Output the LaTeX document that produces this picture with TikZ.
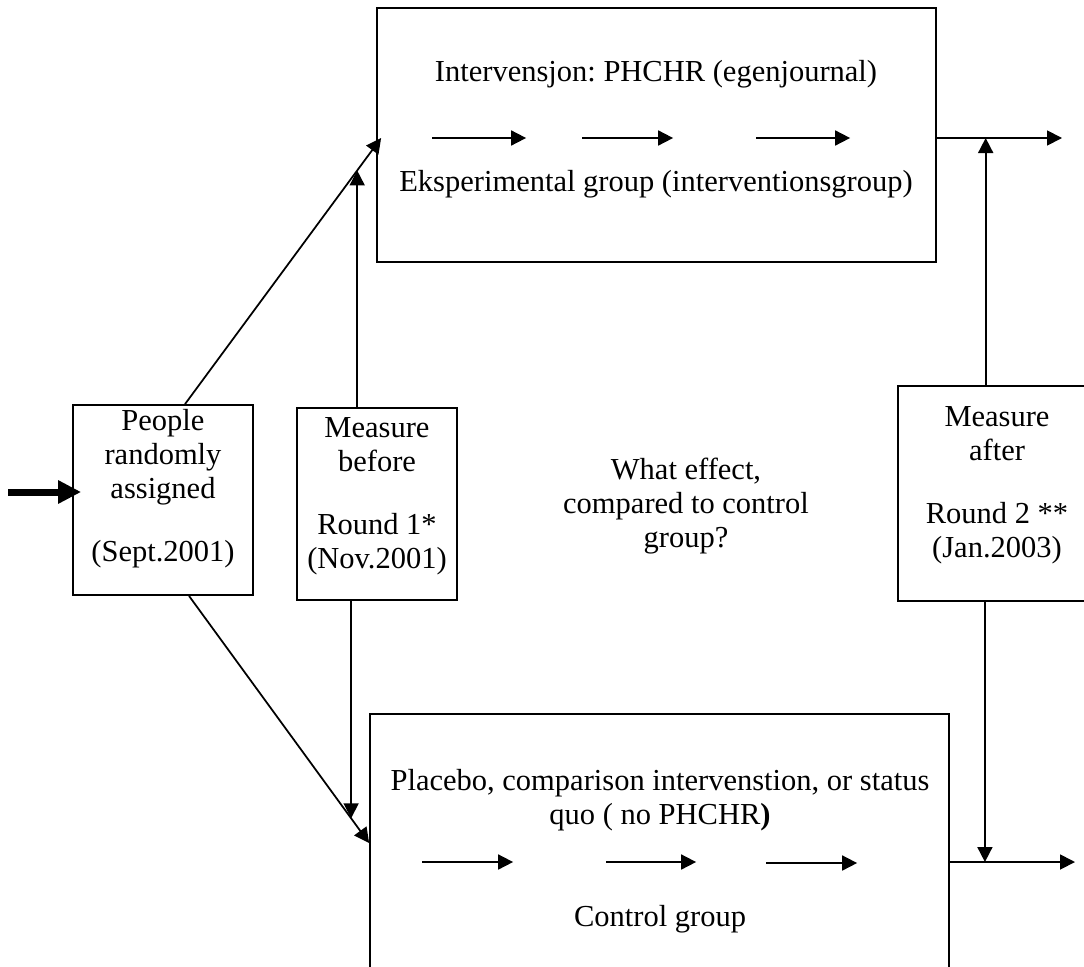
\documentclass[tikz,border=0pt]{standalone}
\usepackage{fontspec}
\setmainfont{Liberation Serif}
\usetikzlibrary{arrows.meta,positioning}

\begin{document}
\begin{tikzpicture}[x=0.4pt,y=-0.4pt,
        every node/.style={font=\fontsize{12.2}{13.6}\selectfont\frenchspacing,align=center,inner sep=0pt},
        frame/.style={draw,line width=0.7pt},
        flow/.style={line width=0.7pt,-{Triangle[length=6pt,width=6pt]}}]
        \useasboundingbox (0,0) rectangle (1084,966);

        % Boxes
        \node[frame,minimum width=223.6pt,minimum height=101.6pt] (exp) at (656.5,135) {};
        \node[frame,minimum width=231.6pt,minimum height=118.4pt] (ctrl) at (659.5,862) {};
        \node[frame,minimum width=72pt,minimum height=76pt] (people) at (163,500) {};
        \node[frame,minimum width=64pt,minimum height=76.8pt] (before) at (377,504) {};
        \node[frame,minimum width=84.8pt,minimum height=86pt] (after) at (1004,493.5) {};

        % Texts
        \node (exptitle) at (656,74) {Intervensjon: PHCHR (egenjournal)};
        \node (expname) at (656,184) {Eksperimental group (interventionsgroup)};
        \node (ctrltitle) at (660,800) {Placebo, comparison intervenstion, or status\\quo ( no PHCHR\textbf{)}};
        \node (ctrlname) at (660,919) {Control group};
        \node (peopletext) at (163,489) {People\\randomly\\assigned\\[11.6pt](Sept.2001)};
        \node (beforetext) at (377,496) {Measure\\before\\[11.6pt]Round 1*\\(Nov.2001)};
        \node (aftertext) at (997,485) {Measure\\after\\[11.6pt]Round 2 **\\(Jan.2003)};
        \node (effect) at (686,506) {What effect,\\compared to control\\group?};

        % Arrows inside the groups
        \foreach \from/\to in {56/150,206/297,380/474} {
                \draw[flow,shift={(exp.west)}] (\from,3) -- (\to,3);
            }
        \foreach \from/\to/\dy in {53/144/0,237/327/0,397/488/1} {
                \draw[flow,shift={(ctrl.west)}] (\from,\dy) -- (\to,\dy);
            }

        % Entry
        \coordinate (inlet) at (8,492);
        \draw[line width=2.8pt,-{Triangle[length=9.2pt,width=8.8pt]}] (inlet) -- ([xshift=3.6pt]people.west |- inlet);

        % Randomisation
        \draw[flow] ([xshift=8.8pt]people.north) -- coordinate[pos=0.878] (upmeet) ([shift={(2pt,-1.2pt)}]exp.west);
        \draw[flow] ([xshift=10.4pt]people.south) -- coordinate[pos=0.9] (lowmeet) ([yshift=7.6pt]ctrl.west);

        % Measure before
        \draw[flow] (upmeet |- before.north) -- (upmeet);
        \draw[flow] (lowmeet |- before.south) -- (lowmeet);

        % Outcome and measure after
        \coordinate (expout) at (1062,138);
        \coordinate (ctrlout) at (1075,862);
        \draw[flow] (exp.east |- expout) -- coordinate[pos=0.39] (upjoin) (expout);
        \draw[flow] (ctrl.east) -- coordinate[pos=0.28] (downjoin) (ctrlout);
        \draw[flow] (upjoin |- after.north) -- (upjoin);
        \draw[flow] (downjoin |- after.south) -- (downjoin);
    \end{tikzpicture}
\end{document}
